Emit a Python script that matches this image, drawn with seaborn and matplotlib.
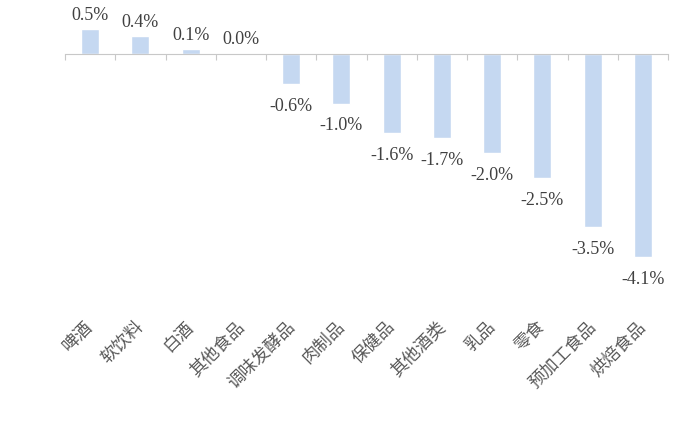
import matplotlib
matplotlib.use("Agg")
import matplotlib.pyplot as plt
import matplotlib.transforms as mtransforms
import seaborn as sns

categories = ['啤酒', '软饮料', '白酒', '其他食品', '调味发酵品', '肉制品',
              '保健品', '其他酒类', '乳品', '零食', '预加工食品', '烘焙食品']
values = [0.5, 0.36, 0.1, 0.0, -0.6, -1.0, -1.6, -1.7, -2.0, -2.5, -3.5, -4.1]

sns.set_style('white')
plt.rcParams['font.family'] = ['Liberation Serif', 'Noto Sans CJK SC', 'DejaVu Sans']

fig = plt.figure(figsize=(7, 4.29), dpi=100)
ax = fig.add_axes([65 / 700, 0.3434, (668 - 65) / 700, 0.646])

sns.barplot(x=categories, y=values, color='#c5d8f1', saturation=1, width=0.36, ax=ax)

ax.set_xlim(-0.5, len(categories) - 0.5)
ax.set_ylim(-4.6, 1.0)
for s in ['top', 'right', 'left']:
    ax.spines[s].set_visible(False)
ax.spines['bottom'].set_position(('data', 0))
ax.spines['bottom'].set_color('#c8c8c8')
ax.set_yticks([])
ax.set_xticks([i - 0.5 for i in range(len(categories) + 1)])
ax.set_xticklabels([])
ax.tick_params(axis='x', bottom=True, direction='out', length=4.5, color='#c8c8c8', width=0.8)
ax.set_xlabel('')
ax.set_ylabel('')

# value labels
for i, v in enumerate(values):
    if v >= 0:
        ax.annotate(f'{v:.1f}%', (i, v), xytext=(0, 4), textcoords='offset points',
                    ha='center', va='bottom', fontsize=13, color='#404040')
    else:
        ax.annotate(f'{v:.1f}%', (i, v), xytext=(0, -10), textcoords='offset points',
                    ha='center', va='top', fontsize=13, color='#404040')

# category labels below the chart
trans = mtransforms.blended_transform_factory(ax.transData, ax.transAxes)
for i, c in enumerate(categories):
    ax.text(i - 0.12, -0.13, c, transform=trans, rotation=45, rotation_mode='anchor',
            ha='right', va='top', fontsize=12.5, color='#595959',
            family=['Noto Sans CJK SC', 'DejaVu Sans'])

fig.savefig('out.png', dpi=100)
